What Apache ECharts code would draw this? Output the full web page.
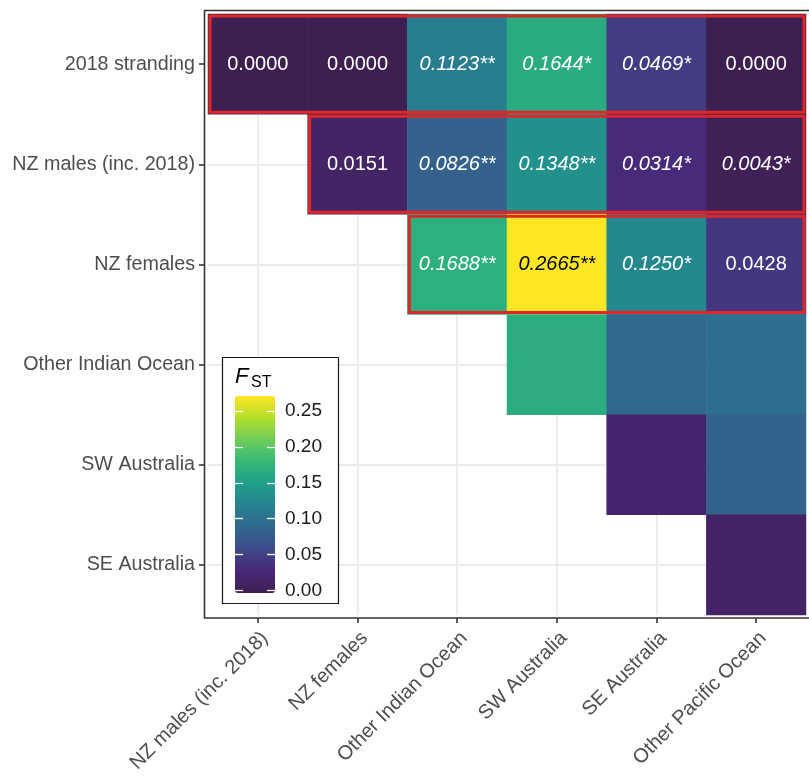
<!DOCTYPE html>
<html>
<head>
<meta charset="utf-8">
<script src="https://cdn.jsdelivr.net/npm/echarts@6/dist/echarts.min.js"></script>
<style>
  html, body { margin: 0; padding: 0; background: #fff; }
  #chart1 { width: 809px; height: 776px; }
</style>
</head>
<body>
<div id="chart1"></div>
<script>
// 横轴 / 纵轴 类别
var xCats = ['NZ males (inc. 2018)', 'NZ females', 'Other Indian Ocean', 'SW Australia', 'SE Australia', 'Other Pacific Ocean'];
var yCats = ['2018 stranding', 'NZ males (inc. 2018)', 'NZ females', 'Other Indian Ocean', 'SW Australia', 'SE Australia'];

// FST 值 (行 = yCats, 列 = xCats)，null 为空格
var fst = [
    [0.0000, 0.0000, 0.1123, 0.1644, 0.0469, 0.0000],
    [null,   0.0151, 0.0826, 0.1348, 0.0314, 0.0043],
    [null,   null,   0.1688, 0.2665, 0.1250, 0.0428],
    [null,   null,   null,   0.165,  0.090,  0.096],
    [null,   null,   null,   null,   0.021,  0.084],
    [null,   null,   null,   null,   null,   0.017]
];
// 显著性星号，null = 不显示数字
var stars = [
    ['',   '',   '**', '*',  '*', ''],
    [null, '',   '**', '**', '*', '*'],
    [null, null, '**', '**', '*', ''],
    [null, null, null, null, null, null],
    [null, null, null, null, null, null],
    [null, null, null, null, null, null]
];
// 红框: [起始列, 结束列, 行]
var boxedRows = [[0, 5, 0], [1, 5, 1], [2, 5, 2]];
// 图例刻度
var legendTicks = [0, 0.05, 0.10, 0.15, 0.20, 0.25];

var viridis = ['#3E1F51', '#482878', '#3E4A89', '#31688E', '#26828E', '#1F9E89', '#35B779', '#6DCD59', '#B4DE2C', '#FDE725'];
var font = 'Liberation Sans, Arial, sans-serif';

var cells = [];
var fstMax = 0;
fst.forEach(function (row, yi) {
    row.forEach(function (v, xi) {
        if (v === null) return;
        cells.push([xi, yi, v]);
        if (v > fstMax) fstMax = v;
    });
});

// 图例白色刻度（左右两侧）
function legendTickAxis(offset) {
    return {
        type: 'value', gridIndex: 1, position: 'left', offset: offset,
        min: 0, max: fstMax, z: 8,
        axisLine: { show: false },
        axisTick: { show: true, inside: true, length: 8, customValues: legendTicks, lineStyle: { color: '#fff', width: 1.3 } },
        axisLabel: { show: false },
        splitLine: { show: false }
    };
}

option = {
    animation: false,
    backgroundColor: '#fff',
    grid: [
        { left: 208, top: 14, right: 3, bottom: 161 },        // 主图
        { left: 235, top: 399, width: 40, height: 191.6 }     // 图例刻度
    ],
    xAxis: [{
        type: 'category',
        data: xCats,
        gridIndex: 0,
        position: 'bottom',
        offset: 3,
        axisLine: { show: false },
        axisTick: { show: true, alignWithLabel: true, length: 5, lineStyle: { color: '#333', width: 1.6 } },
        axisLabel: {
            rotate: 45, interval: 0, margin: 10,
            align: 'right', verticalAlign: 'top',
            color: '#4D4D4D', fontSize: 20, fontFamily: font
        },
        splitLine: { show: true, alignWithLabel: true, lineStyle: { color: '#EBEBEB', width: 1.8 } }
    }, {
        type: 'value', gridIndex: 1, show: false, min: 0, max: 1
    }],
    yAxis: [{
        type: 'category',
        data: yCats,
        gridIndex: 0,
        inverse: true,
        offset: 4,
        axisLine: { show: false },
        axisTick: { show: true, alignWithLabel: true, length: 5, lineStyle: { color: '#333', width: 1.6 } },
        axisLabel: { margin: 9, interval: 0, color: '#4D4D4D', fontSize: 19.7, fontFamily: font },
        splitLine: { show: true, alignWithLabel: true, lineStyle: { color: '#EBEBEB', width: 1.8 } }
    }, {
        // 图例文字
        type: 'value', gridIndex: 1, position: 'right', min: 0, max: fstMax, z: 8,
        axisLine: { show: false },
        axisTick: { show: false },
        axisLabel: {
            show: true, margin: 10, customValues: legendTicks,
            color: '#1A1A1A', fontSize: 19, fontFamily: font,
            formatter: function (v) { return v.toFixed(2); }
        },
        splitLine: { show: false }
    },
    legendTickAxis(0),
    legendTickAxis(-32)
    ],
    visualMap: {
        type: 'continuous',
        min: 0,
        max: fstMax,
        seriesIndex: 0,
        dimension: 2,
        calculable: false,
        hoverLink: false,
        left: 235,
        top: 396,
        padding: 0,
        itemWidth: 40,
        itemHeight: 197,
        z: 6,
        inRange: { color: viridis }
    },
    graphic: [
        { // 面板边框
            type: 'rect', z: 10, silent: true,
            shape: { x: 204.5, y: 10.5, width: 612, height: 607.5 },
            style: { fill: 'none', stroke: '#333', lineWidth: 1.6 }
        },
        { // 图例框
            type: 'rect', z: 5, silent: true,
            shape: { x: 222.5, y: 357.5, width: 116, height: 246 },
            style: { fill: '#fff', stroke: '#1A1A1A', lineWidth: 1.2 }
        },
        {
            type: 'text', z: 7, left: 235, top: 366,
            style: { text: 'F', font: 'italic 22px ' + font, fill: '#000' }
        },
        {
            type: 'text', z: 7, left: 251, top: 375,
            style: { text: 'ST', font: '16px ' + font, fill: '#000' }
        }
    ],
    series: [{
        type: 'heatmap',
        xAxisIndex: 0,
        yAxisIndex: 0,
        data: cells,
        emphasis: { disabled: true },
        label: {
            show: true,
            formatter: function (p) {
                var s = stars[p.data[1]][p.data[0]];
                if (s === null) return '';
                var txt = p.data[2].toFixed(4) + s;
                var style = s ? (p.data[2] > 0.2 ? 'ib' : 'i') : 'n';
                return '{' + style + '|' + txt + '}';
            },
            rich: {
                n: { color: '#fff', fontSize: 20, fontFamily: font },
                i: { color: '#fff', fontSize: 20, fontFamily: font, fontStyle: 'italic' },
                ib: { color: '#000', fontSize: 20, fontFamily: font, fontStyle: 'italic' }
            }
        },
        z: 2
    }, {
        // 红框
        type: 'custom',
        xAxisIndex: 0,
        yAxisIndex: 0,
        data: boxedRows,
        encode: { x: [0, 1], y: 2 },
        z: 4,
        silent: true,
        renderItem: function (params, api) {
            var a = api.coord([api.value(0), api.value(2)]);
            var b = api.coord([api.value(1), api.value(2)]);
            var s = api.size([1, 1]);
            var inset = 2;
            return {
                type: 'rect',
                shape: {
                    x: a[0] - s[0] / 2 + inset,
                    y: a[1] - s[1] / 2 + inset,
                    width: b[0] - a[0] + s[0] - 2 * inset,
                    height: s[1] - 2 * inset
                },
                style: { fill: 'none', stroke: '#E12726', lineWidth: 3 }
            };
        }
    }]
};

var myChart = echarts.init(document.getElementById('chart1'));
myChart.setOption(option);
</script>
</body>
</html>
